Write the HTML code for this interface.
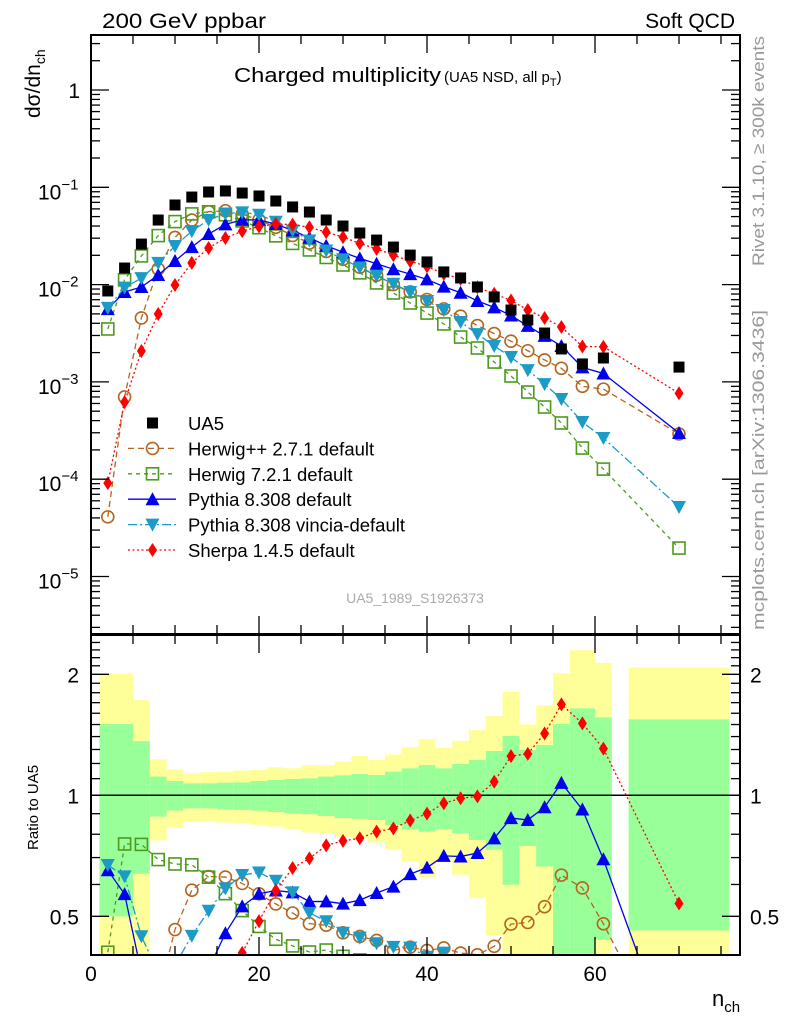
<!DOCTYPE html>
<html><head><meta charset="utf-8">
<style>
html,body{margin:0;padding:0;background:#fff;overflow:hidden;width:786px;height:1024px;}
svg{display:block;font-family:"Liberation Sans",sans-serif;}
</style></head>
<body>
<svg id="chart" width="786" height="1024" viewBox="0 0 786 1024" xmlns="http://www.w3.org/2000/svg">
<defs>
<clipPath id="clipMain"><rect x="91" y="35" width="649" height="599"/></clipPath>
<clipPath id="clipRatio"><rect x="91" y="635" width="649" height="320"/></clipPath>
</defs>
<text x="102" y="28" font-size="21" textLength="164" lengthAdjust="spacingAndGlyphs">200 GeV ppbar</text>
<text x="735" y="28" font-size="21" text-anchor="end">Soft QCD</text>
<text x="234" y="82" font-size="20"><tspan textLength="207" lengthAdjust="spacingAndGlyphs">Charged multiplicity</tspan><tspan font-size="15" dx="3">(UA5 NSD, all p</tspan><tspan font-size="11" dy="4">T</tspan><tspan font-size="15" dy="-4">)</tspan></text>
<text transform="translate(40,118) rotate(-90)" font-size="21">dσ/dn<tspan font-size="14" dy="5">ch</tspan></text>
<text transform="translate(38,850) rotate(-90)" font-size="15">Ratio to UA5</text>
<text x="712" y="1006" font-size="22">n<tspan font-size="15" dy="6">ch</tspan></text>
<text transform="translate(764,266) rotate(-90)" font-size="17" fill="#999" textLength="230" lengthAdjust="spacingAndGlyphs">Rivet 3.1.10, ≥ 300k events</text>
<text transform="translate(764,630) rotate(-90)" font-size="17" fill="#999" textLength="320" lengthAdjust="spacingAndGlyphs">mcplots.cern.ch [arXiv:1306.3436]</text>
<text x="415" y="603" font-size="14" fill="#aaa" text-anchor="middle">UA5_1989_S1926373</text>
<g id="bands" clip-path="url(#clipRatio)"></g>
<g id="ratioLines" clip-path="url(#clipRatio)"></g>
<g id="mainLines" clip-path="url(#clipMain)"></g>
<g id="axes"></g>
<g id="legend"></g>
</svg>
<script>
// ---- data ----
const nch = [2,4,6,8,10,12,14,16,18,20,22,24,26,28,30,32,34,36,38,40,42,44,46,48,50,52,54,56,58.5,61,70];
const ua5 = [0.0086,0.0148,0.0261,0.0461,0.0658,0.0794,0.0895,0.0917,0.0873,0.0814,0.0723,0.0628,0.0557,0.0461,0.0400,0.0339,0.0287,0.0243,0.0201,0.0171,0.0135,0.0117,0.00945,0.00746,0.00548,0.00433,0.00318,0.00218,0.00153,0.00176,0.00142];
const herwigpp = [4.1e-5,7.0e-4,0.00454,0.0145,0.0305,0.0461,0.0562,0.0574,0.0527,0.0463,0.0388,0.0320,0.0267,0.0219,0.0182,0.0151,0.0125,0.0100,0.00842,0.00703,0.00563,0.00474,0.00379,0.00314,0.00262,0.00209,0.00168,0.00138,0.00090,0.000843,0.000292];
const herwig7 = [0.0035,0.0112,0.0197,0.0319,0.0444,0.0533,0.0560,0.0522,0.0451,0.0384,0.0317,0.0265,0.0227,0.0190,0.0159,0.0132,0.0104,0.0082,0.00647,0.0051,0.00394,0.00289,0.00223,0.0016,0.00115,0.000787,0.000552,0.000378,0.000209,0.000127,0.0000196];
const pythia = [0.0056,0.0084,0.00945,0.01256,0.0175,0.0243,0.0331,0.0416,0.0462,0.0463,0.0419,0.0360,0.0303,0.0251,0.0215,0.0186,0.0164,0.0144,0.0128,0.0113,0.00954,0.00824,0.00679,0.00583,0.00481,0.00376,0.00297,0.00234,0.00141,0.00122,0.000298];
const vincia = [0.00577,0.0093,0.01164,0.0167,0.0249,0.0355,0.0462,0.0538,0.0553,0.0523,0.0443,0.0360,0.0284,0.0224,0.0182,0.0150,0.0123,0.0102,0.0084,0.00678,0.00548,0.00413,0.0031,0.00234,0.0018,0.00132,0.00095,0.000667,0.000387,0.000265,0.0000518];
const sherpa = [9.1e-5,6.2e-4,0.00208,0.00499,0.0099,0.0167,0.0238,0.0301,0.0354,0.0396,0.0419,0.0414,0.0388,0.0346,0.0308,0.0265,0.0233,0.0201,0.0174,0.0154,0.0129,0.0115,0.00939,0.00806,0.00686,0.00549,0.00453,0.00367,0.00231,0.0023,0.000764];
const binLo = [1,5,7,9,11,13,15,17,19,21,23,25,27,29,31,33,35,37,39,41,43,45,47,49,51,53,55,57,60,64];
const binHi = [5,7,9,11,13,15,17,19,21,23,25,27,29,31,33,35,37,39,41,43,45,47,49,51,53,55,57,60,62,76];
const yelUp = [2.006,1.725,1.229,1.160,1.134,1.141,1.145,1.152,1.156,1.174,1.167,1.187,1.187,1.212,1.252,1.224,1.264,1.318,1.378,1.313,1.367,1.453,1.575,1.810,1.501,1.673,2.01,2.296,2.136,2.080];
const grnUp = [1.504,1.364,1.113,1.085,1.071,1.071,1.075,1.077,1.085,1.092,1.098,1.102,1.113,1.121,1.130,1.123,1.145,1.167,1.189,1.167,1.196,1.224,1.289,1.404,1.296,1.334,1.504,1.645,1.563,1.545];
const grnLo = [0.4995,0.638,0.885,0.916,0.928,0.928,0.923,0.920,0.916,0.909,0.902,0.897,0.888,0.877,0.874,0.868,0.844,0.823,0.812,0.823,0.805,0.774,0.732,0.599,0.748,0.665,0.3,0.3,0.437,0.461];
const yelLo = [0.3,0.3,0.772,0.833,0.86,0.86,0.855,0.852,0.844,0.836,0.823,0.808,0.805,0.789,0.782,0.763,0.732,0.684,0.626,0.684,0.634,0.555,0.449,0.3,0.3,0.3,0.3,0.3,0.3,0.3];
const xTicks = [0,20,40,60];
const ratioTicks = [0.5,1,2];
const ratioTickLabels = ["0.5","1","2"];

// ---- scales ----
const X0=91, X1=740, XPU=8.4;
const MT=35, MB=634, RT=635, RB=955;
function xs(n){return X0+n*XPU;}
function ym(v){return 90-97.3*Math.log10(v);}
function yr(r){return 795.3-121*Math.log2(r);}
const NS="http://www.w3.org/2000/svg";
function mk(tag,attrs,parent){const e=document.createElementNS(NS,tag);for(const k in attrs)e.setAttribute(k,attrs[k]);parent.appendChild(e);return e;}
const bands=document.getElementById('bands');
const ratioG=document.getElementById('ratioLines');
const mainG=document.getElementById('mainLines');
const axes=document.getElementById('axes');
const legend=document.getElementById('legend');

for(let i=0;i<binLo.length;i++){
  const x=xs(binLo[i]), w=xs(binHi[i])-x;
  let r=mk('rect',{x:x,y:yr(yelUp[i]),width:w,height:yr(yelLo[i])-yr(yelUp[i]),fill:'#ffff99'},bands);
  
  
  let g=mk('rect',{x:x,y:yr(grnUp[i]),width:w,height:yr(grnLo[i])-yr(grnUp[i]),fill:'#99ff99'},bands);
  
  
}
let one=mk('line',{x1:X0,x2:X1,y1:yr(1),y2:yr(1),stroke:'#000','stroke-width':1.5},ratioG);



function marker(type,color,cx,cy,parent){
  let e;
  if(type==='sq') e=mk('rect',{x:cx-5.5,y:cy-5.5,width:11,height:11,fill:'#000'},parent);
  else if(type==='circ') e=mk('circle',{cx:cx,cy:cy,r:6,fill:'none',stroke:color,'stroke-width':1.6},parent);
  else if(type==='osq') e=mk('rect',{x:cx-6,y:cy-6,width:12,height:12,fill:'none',stroke:color,'stroke-width':1.6},parent);
  else if(type==='tri') e=mk('path',{d:`M${cx},${cy-7}L${cx+7},${cy+6}L${cx-7},${cy+6}Z`,fill:color},parent);
  else if(type==='itri') e=mk('path',{d:`M${cx},${cy+7}L${cx+7},${cy-6}L${cx-7},${cy-6}Z`,fill:color},parent);
  else if(type==='dia') e=mk('path',{d:`M${cx},${cy-7}L${cx+4.5},${cy}L${cx},${cy+7}L${cx-4.5},${cy}Z`,fill:color},parent);
  return e;
}
const series=[
 {name:'herwigpp',vals:herwigpp,color:'#b5651d',dash:'6,4',m:'circ',label:'Herwig++ 2.7.1 default'},
 {name:'herwig7',vals:herwig7,color:'#4c9a1e',dash:'4,4',m:'osq',label:'Herwig 7.2.1 default'},
 {name:'pythia',vals:pythia,color:'#0000ee',dash:'',m:'tri',label:'Pythia 8.308 default'},
 {name:'vincia',vals:vincia,color:'#1b9bc6',dash:'9,3,2,3',m:'itri',label:'Pythia 8.308 vincia-default'},
 {name:'sherpa',vals:sherpa,color:'#ff0000',dash:'2,2.5',m:'dia',label:'Sherpa 1.4.5 default'}
];
series.forEach(s=>{
  let pm=[], pr=[];
  for(let i=0;i<nch.length;i++){pm.push(xs(nch[i])+','+ym(s.vals[i]));pr.push(xs(nch[i])+','+yr(s.vals[i]/ua5[i]));}
  let lm=mk('polyline',{points:pm.join(' '),fill:'none',stroke:s.color,'stroke-width':1.3,'stroke-dasharray':s.dash},mainG);
  
  
  let lr=mk('polyline',{points:pr.join(' '),fill:'none',stroke:s.color,'stroke-width':1.3,'stroke-dasharray':s.dash},ratioG);
  
  
  for(let i=0;i<nch.length;i++){
    let a=marker(s.m,s.color,xs(nch[i]),ym(s.vals[i]),mainG);
    
    
    let b=marker(s.m,s.color,xs(nch[i]),yr(s.vals[i]/ua5[i]),ratioG);
    
    
  }
});
for(let i=0;i<nch.length;i++){
  let a=marker('sq','#000',xs(nch[i]),ym(ua5[i]),mainG);
  
  
}

[[MT,MB],[RT,RB]].forEach((p,k)=>{
  let f=mk('rect',{x:X0,y:p[0],width:X1-X0,height:p[1]-p[0],fill:'none',stroke:'#000','stroke-width':2},axes);
  
  
});
for(let n=0;n<=77;n+=5){
  const x=xs(n), L=(n%20===0)?18:9;
  [[MT,1],[MB,-1],[RT,1],[RB,-1]].forEach(e=>{
    let t=mk('line',{x1:x,x2:x,y1:e[0],y2:e[0]+e[1]*L,stroke:'#000','stroke-width':1.3},axes);
    
    
  });
}
xTicks.forEach(n=>{
  let t=mk('text',{x:xs(n),y:981,'font-size':21,'text-anchor':'middle'},axes);
  t.textContent=String(n);
  
  
});
for(let d=-6;d<=0;d++){
  for(let m=1;m<=9;m++){
    const v=m*Math.pow(10,d), y=ym(v);
    if(y<MT||y>MB) continue;
    const L=m===1?18:9;
    [[X0,1],[X1,-1]].forEach(e=>{
      let t=mk('line',{x1:e[0],x2:e[0]+e[1]*L,y1:y,y2:y,stroke:'#000','stroke-width':1.3},axes);
      
      
    });
  }
  const y=ym(Math.pow(10,d));
  if(y<MT||y>MB) continue;
  let t;
  if(d===0){t=mk('text',{x:80,y:y+8,'font-size':21,'text-anchor':'end'},axes);t.textContent='1';}
  else{
    t=mk('text',{x:38,y:y+12,'font-size':21},axes);
    t.textContent='10';
    let s=mk('tspan',{'font-size':15,dy:-10},t);
    s.textContent='−'+(-d);
  }
  
  
}
for(let k=4;k<=25;k++){
  const r=k/10, y=yr(r);
  if(y<RT||y>RB) continue;
  const L=(k===5||k===10||k===20)?18:9;
  [[X0,1],[X1,-1]].forEach(e=>{
    let t=mk('line',{x1:e[0],x2:e[0]+e[1]*L,y1:y,y2:y,stroke:'#000','stroke-width':1.3},axes);
    
    
  });
}
ratioTicks.forEach((r,i)=>{
  let t=mk('text',{x:79,y:yr(r)+8,'font-size':21,'text-anchor':'end'},axes);
  t.textContent=ratioTickLabels[i];
  
  
  let u=mk('text',{x:750,y:yr(r)+8,'font-size':21},axes);
  u.textContent=ratioTickLabels[i];
  
  
});
const legRows=[{name:'ua5',m:'sq',color:'#000',dash:null,label:'UA5'}].concat(series);
legRows.forEach((s,i)=>{
  const y=423+i*25.4;
  const g=mk('g',{},legend);
  
  
  if(s.dash!==null) mk('line',{x1:128,x2:176,y1:y,y2:y,stroke:s.color,'stroke-width':1.3,'stroke-dasharray':s.dash},g);
  marker(s.m,s.color,152.5,y,g);
  const t=mk('text',{x:188,y:y+7,'font-size':18.5},g);
  t.textContent=s.label;
});
</script>
</body></html>
